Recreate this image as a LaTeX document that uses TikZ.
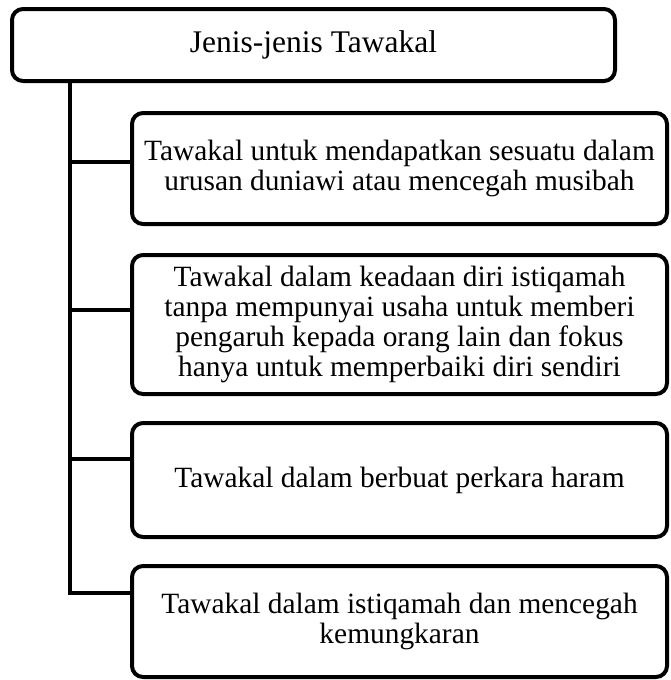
\documentclass[tikz,border=0pt]{standalone}
\usepackage{fontspec}
\setmainfont{Liberation Serif}
\begin{document}
\begin{tikzpicture}[x=1pt,y=1pt,
  box/.style={draw=black, line width=4pt, rounded corners=11pt, fill=white,
    align=center, inner sep=0pt, font=\fontsize{29.4}{29.8}\selectfont},
  childbox/.style={box, minimum width=535pt},
  conn/.style={draw=black, line width=4pt}]
\useasboundingbox[fill=white] (0,0) rectangle (670,-680);
\node[box, minimum width=603pt, minimum height=72pt, font=\fontsize{31.5}{32}\selectfont] (root) at (313.5,-45) {Jenis-jenis Tawakal};
\node[childbox, minimum height=111pt] (b1) at (399.5,-168.5)
  {Tawakal untuk mendapatkan sesuatu dalam\\urusan duniawi atau mencegah musibah};
\node[childbox, minimum height=139pt] (b2) at (399.5,-324.5)
  {Tawakal dalam keadaan diri istiqamah\\tanpa mempunyai usaha untuk memberi\\pengaruh kepada orang lain dan fokus\\hanya untuk memperbaiki diri sendiri};
\node[childbox, minimum height=114pt] (b3) at (399.5,-480)
  {Tawakal dalam berbuat perkara haram};
\node[childbox, minimum height=111pt] (b4) at (399.5,-621.5)
  {Tawakal dalam istiqamah dan mencegah\\kemungkaran};
\path (root.south west) ++(60pt,0) coordinate (t0);
\coordinate (c1) at ([yshift=-51pt]b1.north west);
\coordinate (c2) at ([yshift=-57pt]b2.north west);
\coordinate (c3) at ([yshift=-38pt]b3.north west);
\coordinate (c4) at ([yshift=-29pt]b4.north west);
\draw[conn] (t0) |- (c4);
\draw[conn] (t0 |- c1) -- (c1);
\draw[conn] (t0 |- c2) -- (c2);
\draw[conn] (t0 |- c3) -- (c3);
\end{tikzpicture}
\end{document}
